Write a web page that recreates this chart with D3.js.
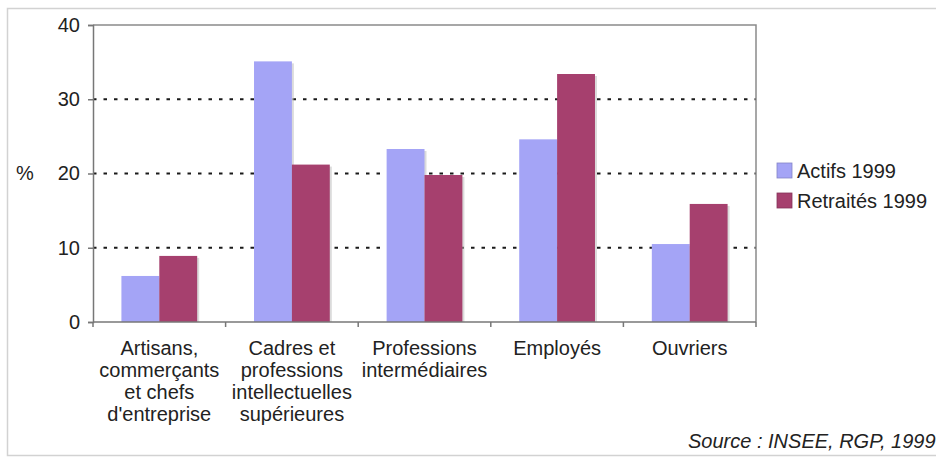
<!DOCTYPE html>
<html>
<head>
<meta charset="utf-8">
<script src="https://cdn.jsdelivr.net/npm/d3@7"></script>
<style>
  html, body { margin: 0; padding: 0; background: #fff; }
  svg { display: block; font-family: "Liberation Sans", Arial, sans-serif; }
</style>
</head>
<body>
<svg id="chart" width="936" height="459"></svg>
<script>
const categories = [
  ["Artisans,", "commerçants", "et chefs", "d'entreprise"],
  ["Cadres et", "professions", "intellectuelles", "supérieures"],
  ["Professions", "intermédiaires"],
  ["Employés"],
  ["Ouvriers"]
];
const seriesNames = ["Actifs 1999", "Retraités 1999"];
const actifs = [6.2, 35.1, 23.3, 24.6, 10.5];
const retraites = [8.9, 21.2, 19.8, 33.4, 15.9];
const yTicks = [0, 10, 20, 30, 40];
const gridTicks = [10, 20, 30];
const colors = ["#a4a4f6", "#a6406e"];
const sourceText = "Source : INSEE, RGP, 1999";

const svg = d3.select("#chart");
const pL = 93, pR = 756, pT = 25, pB = 322;

// outer frame
svg.append("rect").attr("x", 7.5).attr("y", 8.5).attr("width", 940).attr("height", 447)
  .attr("fill", "none").attr("stroke", "#d2d2d2").attr("stroke-width", 1.5);

const catIdx = categories.map((d, i) => i);
const x0 = d3.scaleBand().domain(catIdx).range([pL, pR]).paddingInner(0).paddingOuter(0);
const x1 = d3.scaleBand().domain(seriesNames).range([0, x0.bandwidth()]).paddingInner(0).paddingOuter(0.75);
const y = d3.scaleLinear().domain([0, 40]).range([pB, pT]);

// gridlines
svg.append("g").selectAll("line").data(gridTicks).join("line")
  .attr("x1", pL).attr("x2", pR)
  .attr("y1", d => y(d)).attr("y2", d => y(d))
  .attr("stroke", "#1a1a1a").attr("stroke-width", 2)
  .attr("stroke-dasharray", "3.5,7");

// plot frame top/right
svg.append("path")
  .attr("d", `M${pL},${pT}H${pR}V${pB}`)
  .attr("fill", "none").attr("stroke", "#8a8a8a").attr("stroke-width", 1.5);

// bars
const rows = catIdx.map(i => ({ i, vals: [actifs[i], retraites[i]] }));
const groups = svg.append("g").selectAll("g").data(rows).join("g")
  .attr("transform", d => `translate(${x0(d.i)},0)`);
groups.selectAll("rect.sh").data(d => d.vals.map((v, k) => ({ v, k }))).join("rect")
  .attr("class", "sh")
  .attr("x", d => x1(seriesNames[d.k]) + 2)
  .attr("y", d => y(d.v) + 2)
  .attr("width", x1.bandwidth())
  .attr("height", d => y(0) - y(d.v) - 2)
  .attr("fill", "#b8b8b8").attr("opacity", 0.5);
groups.selectAll("rect.bar").data(d => d.vals.map((v, k) => ({ v, k }))).join("rect")
  .attr("class", "bar")
  .attr("x", d => x1(seriesNames[d.k]))
  .attr("y", d => y(d.v))
  .attr("width", x1.bandwidth())
  .attr("height", d => y(0) - y(d.v))
  .attr("fill", d => colors[d.k]);

// y axis
const yAxis = d3.axisLeft(y).tickValues(yTicks).tickSize(5).tickPadding(8).tickFormat(d3.format("d"));
const gy = svg.append("g").attr("transform", `translate(${pL},0)`).call(yAxis);
gy.select(".domain").attr("stroke", "#777").attr("stroke-width", 1.5);
gy.selectAll(".tick line").attr("stroke", "#777").attr("stroke-width", 1.5);
gy.selectAll(".tick text").attr("font-size", 20).attr("fill", "#222")
  .attr("font-family", "Liberation Sans, Arial, sans-serif");

// x axis
const boundaries = d3.range(categories.length + 1).map(i => pL + i * x0.step());
svg.append("line").attr("x1", pL).attr("x2", pR).attr("y1", pB).attr("y2", pB)
  .attr("stroke", "#777").attr("stroke-width", 1.5);
svg.append("g").selectAll("line").data(boundaries).join("line")
  .attr("x1", d => d).attr("x2", d => d).attr("y1", pB).attr("y2", pB + 5)
  .attr("stroke", "#777").attr("stroke-width", 1.5);

const labels = svg.append("g").selectAll("text").data(rows).join("text")
  .attr("x", d => x0(d.i) + x0.bandwidth() / 2)
  .attr("y", 355)
  .attr("text-anchor", "middle")
  .attr("font-size", 20).attr("fill", "#222");
labels.selectAll("tspan").data(d => categories[d.i]).join("tspan")
  .attr("x", function() { return d3.select(this.parentNode).attr("x"); })
  .attr("dy", (d, k) => k === 0 ? 0 : 22)
  .text(d => d);

// y title
svg.append("text").attr("x", 25).attr("y", 180).attr("text-anchor", "middle")
  .attr("font-size", 20).attr("fill", "#222").text("%");

// legend
const leg = svg.append("g").selectAll("g").data(seriesNames).join("g")
  .attr("transform", (d, k) => `translate(777,${163 + k * 30})`);
leg.append("rect").attr("width", 15).attr("height", 15)
  .attr("fill", (d, k) => colors[k]).attr("stroke", (d, k) => d3.color(colors[k]).darker(0.6)).attr("stroke-width", 0.8);
leg.append("text").attr("x", 20).attr("y", 14.5).attr("font-size", 20).attr("fill", "#222").text(d => d);

// source
svg.append("text").attr("x", 688).attr("y", 448).attr("font-size", 20)
  .attr("font-style", "italic").attr("fill", "#222").text(sourceText);
</script>
</body>
</html>
